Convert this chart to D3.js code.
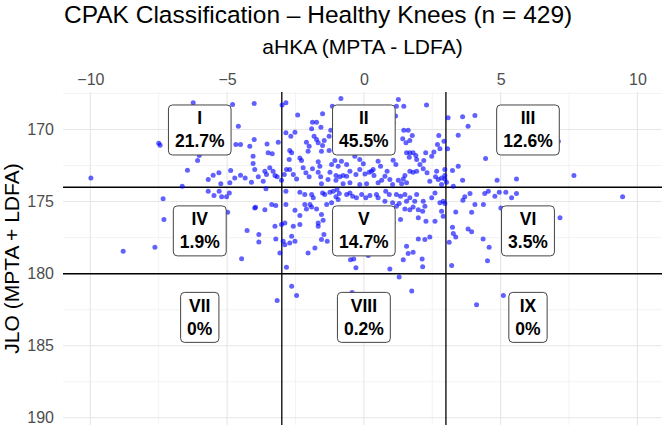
<!DOCTYPE html>
<html>
<head>
<meta charset="utf-8">
<script src="https://cdn.jsdelivr.net/npm/d3@7"></script>
<style>
  body { margin: 0; background: #fff; }
  text { font-family: "Liberation Sans", Arial, sans-serif; }
</style>
</head>
<body>
<div id="chart"></div>
<script>
// tick labels and CPAK boundaries
const hkaTicks = [-10, -5, 0, 5, 10];
const jloTicks = [170, 175, 180, 185, 190];
const hkaCuts = [-3, 3];
const jloCuts = [174, 180];

// zone labels
const zoneNames = ["I", "II", "III", "IV", "V", "VI", "VII", "VIII", "IX"];
const zonePct = ["21.7%", "45.5%", "12.6%", "1.9%", "14.7%", "3.5%", "0%", "0.2%", "0%"];
const zoneHka = [-6, 0, 6, -6, 0, 6, -6, 0, 6];
const zoneJlo = [170, 170, 170, 177, 177, 177, 183, 183, 183];

// knees: [aHKA, JLO]
const knees = [
  [-6.24,168.15],[-4.80,168.26],[-4.01,168.19],[-4.59,169.77],[-7.50,170.95],[-7.45,171.1],[-4.68,171.04],[-4.51,171.04],
  [-4.01,170.7],[-4.17,171.16],[-4.05,171.85],[-4.05,172.36],[-6.02,171.8],[-6.08,172.15],[-6.45,172.82],[-9.98,173.36],
  [-5.69,173.47],[-5.51,173.17],[-5.30,173.0],[-4.87,172.85],[-4.72,173.36],[-4.51,173.17],[-4.34,173.36],[-4.11,173.66],
  [-5.23,173.77],[-4.90,173.7],[-6.64,173.94],[-5.69,174.28],[-5.48,174.58],[-5.29,174.28],[-5.20,174.67],[-5.02,174.67],
  [-4.92,174.4],[-7.34,174.8],
  [-7.31,176.25],[-4.98,175.74],[-3.96,175.39],[-4.27,177.01],[-3.84,177.29],[-3.84,177.8],[-8.80,178.45],[-7.64,178.17],[-4.47,178.96],
  [-2.99,168.31],[-2.85,168.15],[-2.42,169.0],[-1.51,168.91],[-0.84,167.85],[-1.15,168.38],[1.26,167.92],[1.19,168.38],[1.46,168.38],[2.29,168.31],
  [-1.88,169.49],[-1.73,169.49],[-1.57,169.84],[-1.91,169.95],[-2.85,170.23],[-2.52,170.19],[-2.67,170.47],[-1.21,170.05],[-1.27,170.47],
  [-1.82,170.47],[-1.73,170.69],[-1.67,170.92],[-1.51,171.11],[-1.45,170.76],[-2.10,170.88],[-2.0,171.16],[-2.04,171.51],
  [-3.54,171.0],[-3.35,171.69],[-3.50,171.62],[-3.13,170.88],
  [-2.64,171.62],[-2.73,172.08],[-2.71,171.46],[-2.34,171.97],[-2.28,172.15],[-1.55,171.51],[-1.27,171.46],
  [-1.67,172.24],[-1.61,172.55],[-1.18,172.43],[-1.06,172.15],[-0.94,172.55],[-0.82,172.2],[-0.63,172.43],[-0.02,172.38],[-0.15,172.08],[-0.33,171.85],
  [0.52,172.2],[0.61,172.55],[0.34,172.78],[0.19,172.97],[1.07,172.13],[1.17,172.43],
  [1.46,170.05],[1.62,170.05],[1.77,170.42],[1.68,170.76],[1.54,170.92],[1.42,170.65],[1.07,169.53],[1.16,169.07],
  [1.68,171.62],[1.80,171.62],[1.90,171.8],[1.66,171.92],[1.93,172.08],[1.56,171.62],[2.26,171.62],[2.19,172.15],
  [2.48,171.85],[2.56,171.57],[2.78,171.34],[2.69,171.04],[2.74,170.42],[2.93,170.81],[3.06,171.34],
  [1.68,172.9],[1.80,172.97],[1.93,172.9],[1.50,173.19],[1.44,173.43],[1.26,173.52],[1.56,173.7],
  [0.85,172.9],[0.77,173.24],[0.95,173.47],[0.28,172.9],[0.37,173.19],[0.65,173.52],
  [2.31,173.0],[2.62,173.28],[2.72,173.47],[2.41,173.59],[2.66,172.9],[2.96,173.43],[3.02,173.66],[2.84,173.82],
  [2.05,172.43],[2.17,172.73],
  [-0.15,172.78],[0.04,173.08],[-0.29,173.13],[-0.51,172.9],[-0.63,173.24],
  [-1.02,173.19],[-0.88,173.28],[-0.76,173.19],[-1.02,173.52],[-1.24,172.97],
  [-1.67,172.97],[-1.58,173.28],[-1.31,173.47],[-1.55,173.77],
  [-2.22,172.66],[-2.12,173.0],[-2.0,173.28],[-1.88,172.73],
  [-2.46,173.43],[-2.58,173.13],[-2.71,172.78],
  [-2.91,173.13],[-2.83,172.78],[-3.01,173.52],[-3.17,173.28],
  [-3.44,172.66],[-3.32,172.9],[-3.25,173.19],[-3.62,172.9],[-3.56,173.13],
  [-3.99,172.78],[-3.86,173.28],[-3.68,173.59],
  [0.52,173.7],[0.1,173.77],[-0.15,173.82],[-0.51,173.7],[-0.76,173.77],[1.05,173.82],[1.38,173.77],
  [-3.58,174.12],[-2.85,174.28],[-2.34,174.35],[-2.16,174.51],[-1.91,174.51],[-1.85,174.74],
  [-1.51,174.4],[-1.43,174.51],[-1.24,174.35],[-1.12,174.28],[-0.98,174.17],[-0.90,174.44],[-1.02,174.67],[-0.94,174.86],
  [-0.63,174.51],[-0.51,174.4],[-0.41,174.63],[-0.27,174.74],[-0.08,174.51],[0.07,174.74],[0.22,174.58],[0.46,174.51],[0.52,174.74],
  [0.80,174.28],[0.93,174.51],[0.77,174.98],
  [1.19,174.51],[1.34,174.63],[1.50,174.51],[1.68,174.74],[1.56,174.98],[1.86,174.98],[1.93,174.51],
  [2.17,174.98],[2.23,175.33],[2.48,174.74],[2.60,174.4],[2.78,175.09],[2.90,174.98],
  [-3.99,175.44],[-3.62,175.56],[-3.37,175.21],[-3.22,175.28],
  [-2.85,175.21],[-2.52,175.6],[-2.34,175.97],[-2.16,175.21],[-1.97,175.21],[-1.91,175.37],[-2.10,175.51],
  [-1.73,175.51],[-1.55,175.9],[-1.49,176.3],[-1.67,176.48],
  [-2.34,176.6],[-2.58,176.71],[-2.89,176.48],[-3.01,176.6],[-3.25,176.71],
  [-3.22,177.59],[-2.95,177.76],[-2.89,177.99],[-2.71,177.87],[-2.52,177.76],[-2.64,177.41],
  [-3.07,178.56],[-2.83,179.56],
  [-2.04,178.56],[-1.79,178.22],[-1.55,177.64],[-1.34,177.76],[-1.46,177.29],[-1.67,176.71],
  [-0.49,179.03],[-0.37,178.98],[-0.29,179.6],[0.16,178.75],[0.95,179.67],[1.29,180.23],
  [1.44,179.03],[1.62,178.61],[1.80,178.52],[1.56,178.1],[2.13,178.98],[2.15,179.53],
  [1.99,177.59],[2.23,177.64],[2.41,177.45],[1.07,176.48],[1.34,176.25],
  [1.99,176.13],[2.27,176.37],[2.60,176.37],[2.84,175.67],[2.90,176.02],
  [2.15,175.67],[1.99,175.56],[1.80,175.37],[1.68,175.56],
  [1.19,175.33],[1.29,175.14],[1.50,175.51],[1.05,175.09],
  [-1.36,175.21],[-1.18,175.09],[-2.64,180.88],
  [3.08,169.19],[3.61,169.12],[4.06,169.03],[3.81,169.77],[3.45,170.4],[4.45,172.01],[7.11,170.81],
  [3.45,172.55],[3.24,172.85],[2.96,172.78],[2.96,173.19],[2.84,173.36],[3.61,173.52],[4.87,173.52],[5.58,173.43],[7.68,173.19],
  [3.27,173.94],[3.69,174.67],[3.88,174.44],[4.42,174.44],[4.55,174.28],[4.79,174.63],[4.95,174.35],[5.19,174.35],[5.58,174.44],[5.40,174.74],[9.46,174.67],
  [3.62,174.91],[4.06,175.21],[4.37,175.21],[2.96,175.14],[3.36,175.72],[3.94,175.74],[5.01,175.44],[7.17,176.13],
  [3.24,176.78],[3.27,177.22],[3.36,177.45],[3.12,177.83],[3.81,176.9],[3.94,177.1],[4.36,177.59],[4.58,178.17],[4.52,179.1],[3.21,179.44],
  [-3.17,181.86],[-2.46,181.52],[-0.43,181.3],[1.75,181.2],[4.12,182.15],[5.10,181.52]
];

const width = 666, height = 430;
const panel = { left: 63, right: 662, top: 92, bottom: 425 };

const svg = d3.select("#chart").append("svg")
    .attr("width", width)
    .attr("height", height);

// aHKA across, JLO down (reversed)
const x = d3.scaleLinear()
  .domain([-11, 10.9])
  .range([panel.left, panel.right]);

const y = d3.scaleLinear()
  .domain([167.4, 190.5])
  .range([panel.top, panel.bottom]);

// grid
const minorX = [-7.5, -2.5, 2.5, 7.5];
const minorY = [167.5, 172.5, 177.5, 182.5, 187.5];
const grid = svg.append("g");
grid.selectAll(".mx").data(minorX).enter().append("line")
    .attr("x1", d => x(d)).attr("x2", d => x(d))
    .attr("y1", panel.top).attr("y2", panel.bottom)
    .attr("stroke", "#ebebeb").attr("stroke-width", 0.6);
grid.selectAll(".my").data(minorY).enter().append("line")
    .attr("y1", d => y(d)).attr("y2", d => y(d))
    .attr("x1", panel.left).attr("x2", panel.right)
    .attr("stroke", "#ebebeb").attr("stroke-width", 0.6);
grid.selectAll(".gx").data(hkaTicks).enter().append("line")
    .attr("x1", d => x(d)).attr("x2", d => x(d))
    .attr("y1", panel.top).attr("y2", panel.bottom)
    .attr("stroke", "#e6e6e6").attr("stroke-width", 1.1);
grid.selectAll(".gy").data(jloTicks).enter().append("line")
    .attr("y1", d => y(d)).attr("y2", d => y(d))
    .attr("x1", panel.left).attr("x2", panel.right)
    .attr("stroke", "#e6e6e6").attr("stroke-width", 1.1);

// axes (top and left), no domain line or ticks
const xAxis = svg.append("g")
    .attr("transform", `translate(0,${panel.top - 7})`)
    .call(d3.axisTop(x).tickValues(hkaTicks).tickSize(0).tickPadding(0));
const yAxis = svg.append("g")
    .attr("transform", `translate(${panel.left - 9},0)`)
    .call(d3.axisLeft(y).tickValues(jloTicks).tickSize(0).tickPadding(0));
[xAxis, yAxis].forEach(a => {
  a.select(".domain").remove();
  a.selectAll("text")
    .attr("fill", "#4d4d4d")
    .style("font-size", "16px")
    .style("font-family", "'Liberation Sans', Arial, sans-serif");
});

// CPAK boundaries
svg.append("g").selectAll("line").data(hkaCuts).enter().append("line")
    .attr("x1", d => x(d)).attr("x2", d => x(d))
    .attr("y1", panel.top).attr("y2", panel.bottom)
    .attr("stroke", "#000").attr("stroke-width", 1.3);
svg.append("g").selectAll("line").data(jloCuts).enter().append("line")
    .attr("y1", d => y(d)).attr("y2", d => y(d))
    .attr("x1", panel.left).attr("x2", panel.right)
    .attr("stroke", "#000").attr("stroke-width", 1.5);

// points
svg.append("g").selectAll("circle").data(knees).enter().append("circle")
    .attr("cx", d => x(d[0]))
    .attr("cy", d => y(d[1]))
    .attr("r", 2.5)
    .attr("fill", "#0000ff")
    .attr("fill-opacity", 0.62);

// zone labels
const zones = zoneNames.map((n, i) => ({ name: n, pct: zonePct[i], hka: zoneHka[i], jlo: zoneJlo[i] }));
const lab = svg.append("g").selectAll("g").data(zones).enter().append("g")
    .attr("transform", d => `translate(${x(d.hka)},${y(d.jlo)})`);
lab.append("rect")
    .attr("fill", "#fff")
    .attr("stroke", "#444")
    .attr("stroke-width", 1)
    .attr("rx", 4);
lab.append("text")
    .attr("class", "t1")
    .attr("text-anchor", "middle")
    .attr("dominant-baseline", "central")
    .attr("y", -11)
    .style("font-size", "17.5px")
    .style("font-weight", "bold")
    .text(d => d.name);
lab.append("text")
    .attr("class", "t2")
    .attr("text-anchor", "middle")
    .attr("dominant-baseline", "central")
    .attr("y", 12)
    .style("font-size", "17.5px")
    .style("font-weight", "bold")
    .text(d => d.pct);
lab.each(function () {
  const g = d3.select(this);
  const w = Math.max(g.select(".t1").node().getComputedTextLength(),
                     g.select(".t2").node().getComputedTextLength()) + 13;
  g.select("rect").attr("x", -w / 2).attr("y", -24.5).attr("width", w).attr("height", 50);
});

// titles
svg.append("text")
    .attr("x", panel.left + 1)
    .attr("y", 23)
    .style("font-size", "24.5px")
    .text("CPAK Classification \u2013 Healthy Knees (n = 429)");

svg.append("text")
    .attr("x", (panel.left + panel.right) / 2)
    .attr("y", 54)
    .attr("text-anchor", "middle")
    .style("font-size", "21px")
    .text("aHKA (MPTA - LDFA)");

svg.append("text")
    .attr("transform", `translate(19,${(panel.top + panel.bottom) / 2}) rotate(-90)`)
    .attr("text-anchor", "middle")
    .style("font-size", "21px")
    .text("JLO (MPTA + LDFA)");
</script>
</body>
</html>
